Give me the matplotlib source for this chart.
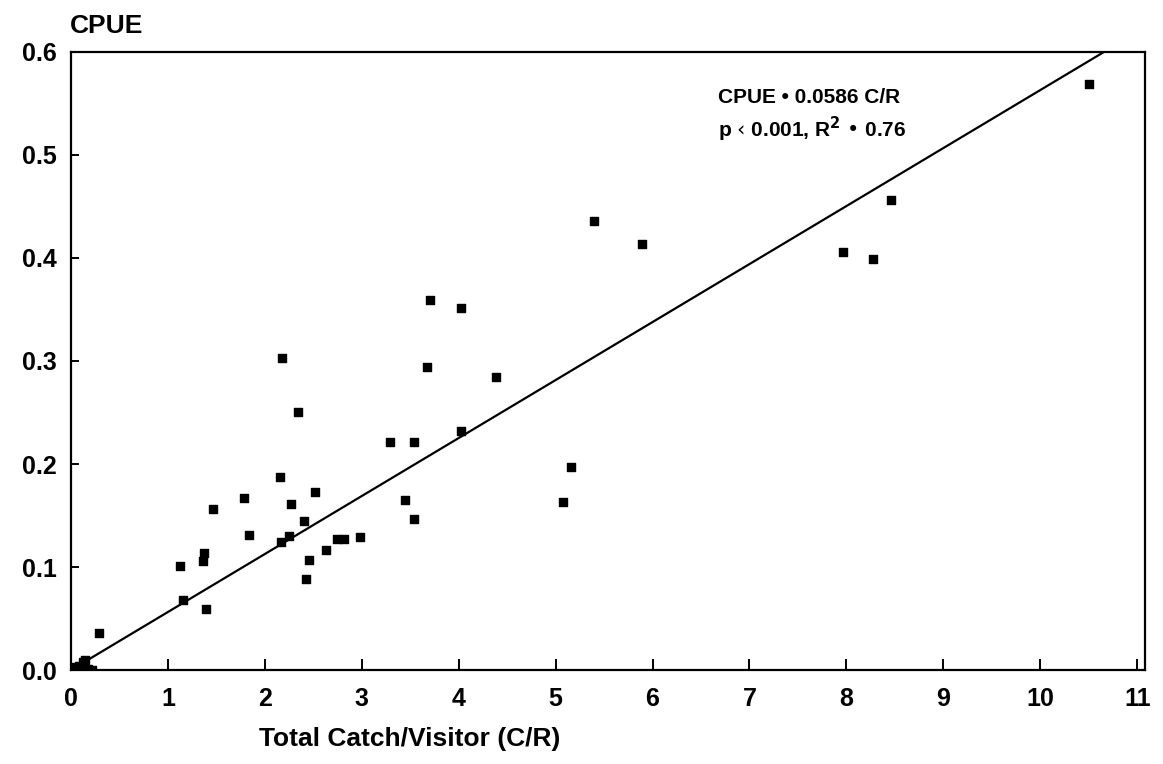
"""CPUE vs total catch per visitor — scatter with regression line."""
import numpy as np
import matplotlib
matplotlib.use("Agg")
import matplotlib.pyplot as plt

plt.rcParams["font.family"] = ["Liberation Sans", "DejaVu Sans"]
plt.rcParams["font.weight"] = "bold"

# ============ Data ============
cr = [0.02, 0.05, 0.08, 0.12, 0.15, 0.18, 0.22, 0.29,
      1.12, 1.16, 1.36, 1.37, 1.39, 1.47, 1.79, 1.84,
      2.16, 2.17, 2.18, 2.25, 2.27, 2.34, 2.40, 2.42, 2.46, 2.52,
      2.63, 2.74, 2.82, 2.98, 3.29, 3.45, 3.54, 3.54, 3.67, 3.70,
      4.02, 4.02, 4.39, 5.08, 5.16, 5.40, 5.89, 7.96, 8.27, 8.46, 10.50]
cpue = [0.002, 0.003, 0.004, 0.008, 0.010, 0.001, 0.000, 0.036,
        0.101, 0.068, 0.106, 0.114, 0.059, 0.156, 0.167, 0.131,
        0.187, 0.124, 0.303, 0.130, 0.161, 0.250, 0.145, 0.088, 0.107, 0.173,
        0.117, 0.127, 0.127, 0.129, 0.221, 0.165, 0.221, 0.147, 0.294, 0.359,
        0.351, 0.232, 0.284, 0.163, 0.197, 0.436, 0.414, 0.406, 0.399, 0.456, 0.569]
slope = 0.0563
fit_x = [0.0, 0.6 / slope]

x_ticks = list(range(12))
y_ticks = [0.0, 0.1, 0.2, 0.3, 0.4, 0.5, 0.6]

# ============ Figure ============
fig = plt.figure(figsize=(11.63, 7.64), dpi=100)
ax = fig.add_axes([0.061, 0.123, 0.9235, 0.809])

ax.scatter(cr, cpue, marker="s", s=26, color="black", zorder=3)
ax.plot(fit_x, [slope * v for v in fit_x], color="black", linewidth=1.6)

ax.set_xlim(0, 11.08)
ax.set_ylim(0, 0.6)
ax.set_xticks(x_ticks)
ax.set_yticks(y_ticks)
ax.set_yticklabels([f"{v:.1f}" for v in y_ticks])
ax.tick_params(axis="x", direction="in", length=8, width=1.4, labelsize=18, pad=12)
ax.tick_params(axis="y", direction="in", length=6, width=1.4, labelsize=18, pad=10)
for sp in ax.spines.values():
    sp.set_linewidth(1.6)

ax.set_xlabel("Total Catch/Visitor (C/R)", fontsize=19, fontweight="bold")
ax.xaxis.set_label_coords(0.315, -0.092)
fig.text(0.060, 0.966, "CPUE", fontsize=19, fontweight="bold", ha="left", va="center")

ax.text(0.602, 0.927, "CPUE • 0.0586 C/R", transform=ax.transAxes,
        fontsize=15, fontweight="bold", ha="left", va="center")
ax.text(0.602, 0.874, "p ‹ 0.001, R$^\\mathbf{2}$ • 0.76", transform=ax.transAxes,
        fontsize=15, fontweight="bold", ha="left", va="center")

fig.savefig("out.png", dpi=100)
